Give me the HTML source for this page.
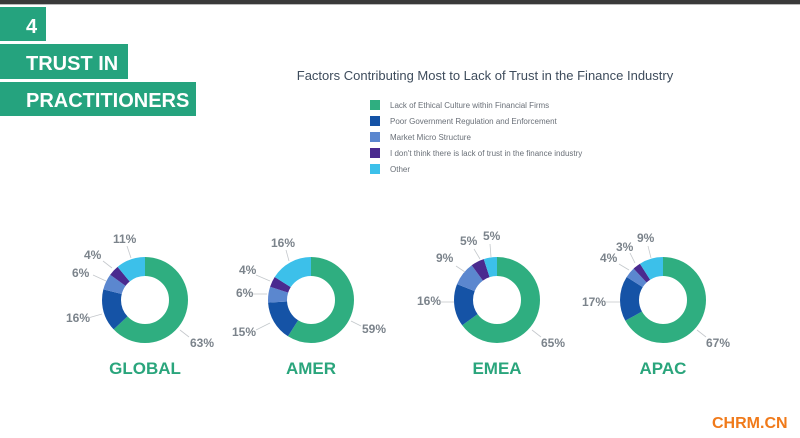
<!DOCTYPE html>
<html><head><meta charset="utf-8"><style>
html,body{margin:0;padding:0;background:#fff;width:800px;height:438px;overflow:hidden}
svg{display:block}
.b{font-family:"Liberation Sans",sans-serif;font-weight:bold}
.p{font-family:"Liberation Sans",sans-serif;font-weight:bold;font-size:12px;fill:#7b838b}
.l{font-family:"Liberation Sans",sans-serif;font-size:8px;fill:#6a7078}
.n{font-family:"Liberation Sans",sans-serif;font-weight:bold;font-size:17px;fill:#2aa57c;text-anchor:middle}
line{stroke:#c4c8cc;stroke-width:0.8}
</style></head><body>
<svg width="800" height="438" viewBox="0 0 800 438">
<rect x="0" y="0" width="800" height="4" fill="#3a3a3a"/>
<rect x="0" y="4" width="800" height="1" fill="#bbb"/>
<rect x="0" y="7" width="46" height="34" fill="#25a37e"/>
<text x="26" y="33" class="b" font-size="20" fill="#fff">4</text>
<rect x="0" y="44" width="128" height="35" fill="#25a37e"/>
<text x="26" y="70" class="b" font-size="20" fill="#fff">TRUST IN</text>
<rect x="0" y="82" width="196" height="34" fill="#25a37e"/>
<text x="26" y="107" class="b" font-size="20" fill="#fff">PRACTITIONERS</text>

<text x="485" y="80" font-family="Liberation Sans,sans-serif" font-size="13" fill="#3e4c5c" text-anchor="middle">Factors Contributing Most to Lack of Trust in the Finance Industry</text>
<rect x="370" y="100" width="10" height="10" fill="#2fae80"/><text x="390" y="108" class="l">Lack of Ethical Culture within Financial Firms</text>
<rect x="370" y="116" width="10" height="10" fill="#1553a6"/><text x="390" y="124" class="l">Poor Government Regulation and Enforcement</text>
<rect x="370" y="132" width="10" height="10" fill="#5b87cf"/><text x="390" y="140" class="l">Market Micro Structure</text>
<rect x="370" y="148" width="10" height="10" fill="#4a2a8f"/><text x="390" y="156" class="l">I don't think there is lack of trust in the finance industry</text>
<rect x="370" y="164" width="10" height="10" fill="#3cc0ea"/><text x="390" y="172" class="l">Other</text>

<!-- GLOBAL 63 16 6 4 11 -->
<g transform="translate(145,300) rotate(-90)" fill="none" stroke-width="19">
<circle r="33.5" pathLength="100" stroke="#2fae80" stroke-dasharray="63 100" stroke-dashoffset="0"/>
<circle r="33.5" pathLength="100" stroke="#1553a6" stroke-dasharray="16 100" stroke-dashoffset="-63"/>
<circle r="33.5" pathLength="100" stroke="#5b87cf" stroke-dasharray="6 100" stroke-dashoffset="-79"/>
<circle r="33.5" pathLength="100" stroke="#4a2a8f" stroke-dasharray="4 100" stroke-dashoffset="-85"/>
<circle r="33.5" pathLength="100" stroke="#3cc0ea" stroke-dasharray="11 100" stroke-dashoffset="-89"/>
</g>
<text x="190" y="347" class="p">63%</text><line x1="180" y1="330" x2="189" y2="337"/>
<text x="66" y="322" class="p">16%</text><line x1="88" y1="318" x2="102" y2="314"/>
<text x="72" y="277" class="p">6%</text><line x1="93" y1="275" x2="106" y2="281"/>
<text x="84" y="259" class="p">4%</text><line x1="103" y1="261" x2="112" y2="268"/>
<text x="113" y="243" class="p">11%</text><line x1="127" y1="246" x2="131" y2="258"/>
<text x="145" y="374" class="n">GLOBAL</text>

<!-- AMER 59 15 6 4 16 -->
<g transform="translate(311,300) rotate(-90)" fill="none" stroke-width="19">
<circle r="33.5" pathLength="100" stroke="#2fae80" stroke-dasharray="59 100" stroke-dashoffset="0"/>
<circle r="33.5" pathLength="100" stroke="#1553a6" stroke-dasharray="15 100" stroke-dashoffset="-59"/>
<circle r="33.5" pathLength="100" stroke="#5b87cf" stroke-dasharray="6 100" stroke-dashoffset="-74"/>
<circle r="33.5" pathLength="100" stroke="#4a2a8f" stroke-dasharray="4 100" stroke-dashoffset="-80"/>
<circle r="33.5" pathLength="100" stroke="#3cc0ea" stroke-dasharray="16 100" stroke-dashoffset="-84"/>
</g>
<text x="362" y="333" class="p">59%</text><line x1="351" y1="321" x2="361" y2="326"/>
<text x="232" y="336" class="p">15%</text><line x1="256" y1="330" x2="270" y2="323"/>
<text x="236" y="297" class="p">6%</text><line x1="253" y1="294" x2="267" y2="294"/>
<text x="239" y="274" class="p">4%</text><line x1="256" y1="275" x2="270" y2="281"/>
<text x="271" y="247" class="p">16%</text><line x1="286" y1="250" x2="289" y2="261"/>
<text x="311" y="374" class="n">AMER</text>

<!-- EMEA 65 16 9 5 5 -->
<g transform="translate(497,300) rotate(-90)" fill="none" stroke-width="19">
<circle r="33.5" pathLength="100" stroke="#2fae80" stroke-dasharray="65 100" stroke-dashoffset="0"/>
<circle r="33.5" pathLength="100" stroke="#1553a6" stroke-dasharray="16 100" stroke-dashoffset="-65"/>
<circle r="33.5" pathLength="100" stroke="#5b87cf" stroke-dasharray="9 100" stroke-dashoffset="-81"/>
<circle r="33.5" pathLength="100" stroke="#4a2a8f" stroke-dasharray="5 100" stroke-dashoffset="-90"/>
<circle r="33.5" pathLength="100" stroke="#3cc0ea" stroke-dasharray="5 100" stroke-dashoffset="-95"/>
</g>
<text x="541" y="347" class="p">65%</text><line x1="532" y1="330" x2="541" y2="337"/>
<text x="417" y="305" class="p">16%</text><line x1="440" y1="302" x2="454" y2="302"/>
<text x="436" y="262" class="p">9%</text><line x1="456" y1="266" x2="465" y2="272"/>
<text x="460" y="245" class="p">5%</text><line x1="474" y1="249" x2="480" y2="259"/>
<text x="483" y="240" class="p">5%</text><line x1="490" y1="244" x2="491" y2="257"/>
<text x="497" y="374" class="n">EMEA</text>

<!-- APAC 67 17 4 3 9 -->
<g transform="translate(663,300) rotate(-90)" fill="none" stroke-width="19">
<circle r="33.5" pathLength="100" stroke="#2fae80" stroke-dasharray="67 100" stroke-dashoffset="0"/>
<circle r="33.5" pathLength="100" stroke="#1553a6" stroke-dasharray="17 100" stroke-dashoffset="-67"/>
<circle r="33.5" pathLength="100" stroke="#5b87cf" stroke-dasharray="4 100" stroke-dashoffset="-84"/>
<circle r="33.5" pathLength="100" stroke="#4a2a8f" stroke-dasharray="3 100" stroke-dashoffset="-88"/>
<circle r="33.5" pathLength="100" stroke="#3cc0ea" stroke-dasharray="9 100" stroke-dashoffset="-91"/>
</g>
<text x="706" y="347" class="p">67%</text><line x1="697" y1="330" x2="706" y2="337"/>
<text x="582" y="306" class="p">17%</text><line x1="605" y1="302" x2="620" y2="302"/>
<text x="600" y="262" class="p">4%</text><line x1="619" y1="264" x2="629" y2="270"/>
<text x="616" y="251" class="p">3%</text><line x1="630" y1="253" x2="635" y2="263"/>
<text x="637" y="242" class="p">9%</text><line x1="648" y1="246" x2="651" y2="258"/>
<text x="663" y="374" class="n">APAC</text>

<text x="712" y="428" class="b" font-size="16" fill="#f07a1a">CHRM.CN</text>
</svg>
</body></html>
